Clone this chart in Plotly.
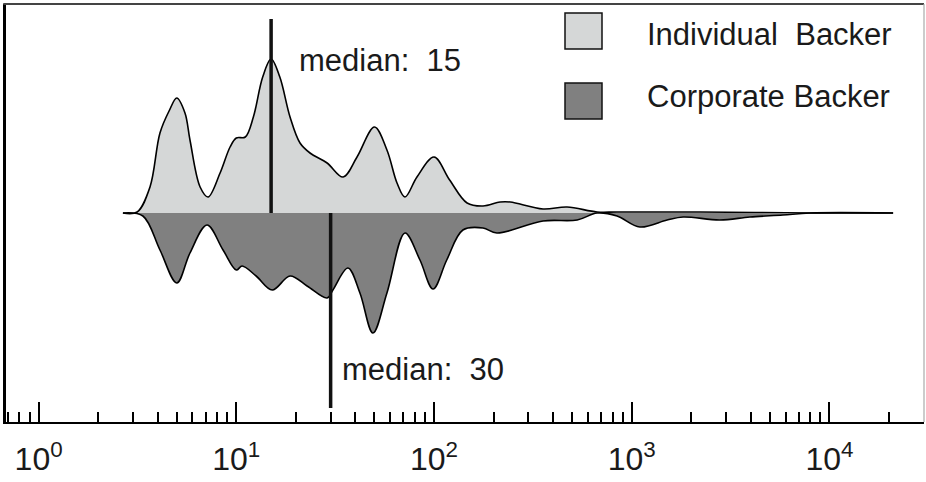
import math
import plotly.graph_objects as go

# Kernel density estimates of pledge amounts (arbitrary density units)
ind_x = [2.67, 3.15, 3.66, 4.11, 4.57, 5.0, 5.5, 5.83, 6.56, 7.2, 8.28, 9.3,
         10.0, 11.1, 12.2, 13.6, 15.0, 16.6, 18.7, 21.0, 23.6, 28.8, 34.7,
         40.8, 50, 57.8, 65, 71.3, 82, 100, 120, 147, 177, 216, 243, 356, 471,
         668, 843, 2220, 7980, 21000]
ind_density = [0, 1, 26, 80, 102, 115, 100, 73, 26, 16, 40, 66,
               75, 76, 96, 136, 154, 136, 96, 70, 60, 50, 36,
               56, 86, 63, 30, 16, 36, 56, 33, 10, 7, 11, 11, 4, 6,
               1, 1, 1, 0, 0]

corp_x = [2.67, 3.37, 4.11, 5.0, 5.83, 7.11, 8.57, 10.0, 10.7, 12.6, 15.2,
          18.7, 22.8, 28.8, 30.8, 36.7, 42.2, 49.1, 57.8, 71.3, 84.9, 98.9,
          116, 140, 177, 208, 356, 530, 668, 843, 1100, 1510, 1820, 2790,
          3960, 5820, 7980, 21000]
corp_density = [0, 3, 37, 70, 40, 12, 37, 57, 53, 63, 77,
                63, 73, 85, 77, 55, 80, 120, 80, 20, 47, 76,
                47, 17, 15, 20, 8, 7, 0, 3, 14, 7, 4, 7,
                4, 2, 0, 0]

series_names = ["Individual\u00a0\u00a0Backer", "Corporate Backer"]
medians = [15, 30]
median_extent = [194, 195]

tick_vals = [1, 10, 100, 1000, 10000]
tick_text = ["10<sup>0</sup>", "10<sup>1</sup>", "10<sup>2</sup>",
             "10<sup>3</sup>", "10<sup>4</sup>"]
minor_vals = [m * 10 ** k for k in range(-1, 5) for m in range(2, 10)]

LIGHT = "#d5d7d7"
DARK = "#808080"
FONT = "Liberation Sans, Arial, sans-serif"
TEXT = "#1a1a1a"

W, H = 926, 482
ML, MR, MT, MB = 6, 2, 4, 60


def px_x(p):
    return (p - ML) / (W - ML - MR)


def px_y(p):
    return (H - MB - p) / (H - MT - MB)


fig = go.Figure()

fig.add_trace(go.Scatter(
    x=ind_x, y=ind_density, mode="lines", line=dict(color="black", width=1.6, shape="spline"),
    fill="tozeroy", fillcolor=LIGHT, hoverinfo="skip", showlegend=False))
fig.add_trace(go.Scatter(
    x=corp_x, y=[-v for v in corp_density], mode="lines",
    line=dict(color="black", width=1.6, shape="spline"),
    fill="tozeroy", fillcolor=DARK, hoverinfo="skip", showlegend=False))

# median markers
fig.add_trace(go.Scatter(x=[medians[0], medians[0]], y=[0, median_extent[0]], mode="lines",
                         line=dict(color="#111", width=3.5), hoverinfo="skip", showlegend=False))
fig.add_trace(go.Scatter(x=[medians[1], medians[1]], y=[0, -median_extent[1]], mode="lines",
                         line=dict(color="#111", width=3.5), hoverinfo="skip", showlegend=False))

# annotation x positions on a log axis are given in log10 units
fig.add_annotation(x=math.log10(medians[0]), y=153, xref="x", yref="y",
                   xanchor="left", yanchor="middle", xshift=26,
                   text=f"median:\u00a0\u00a0{medians[0]}", showarrow=False,
                   font=dict(family=FONT, size=31, color=TEXT))
fig.add_annotation(x=math.log10(medians[1]), y=-156, xref="x", yref="y",
                   xanchor="left", yanchor="middle", xshift=9,
                   text=f"median:\u00a0\u00a0{medians[1]}", showarrow=False,
                   font=dict(family=FONT, size=31, color=TEXT))

# legend boxes
for (y0, y1, col), name, ty in zip([(13, 49, LIGHT), (83, 119, DARK)], series_names, [34, 96]):
    fig.add_shape(type="rect", xref="paper", yref="paper",
                  x0=px_x(565), x1=px_x(602), y0=px_y(y1), y1=px_y(y0),
                  fillcolor=col, line=dict(color="#111", width=1.5))
    fig.add_annotation(x=px_x(645), y=px_y(ty), xref="paper", yref="paper",
                       xanchor="left", yanchor="middle", text=name, showarrow=False,
                       font=dict(family=FONT, size=31, color=TEXT))

# frame top and right
fig.add_shape(type="line", xref="paper", yref="paper", x0=-0.003, x1=1, y0=1, y1=1,
              line=dict(color="#444", width=2))
fig.add_shape(type="line", xref="paper", yref="paper", x0=1, x1=1, y0=0, y1=1,
              line=dict(color="#aaa", width=1.2))

plot_w = W - ML - MR
decade = 197.7
origin = 38.6
fig.update_xaxes(
    type="log", range=[(ML - origin) / decade, (ML + plot_w - origin) / decade],
    tickmode="array", tickvals=tick_vals, ticktext=tick_text,
    ticks="inside", ticklen=20, tickwidth=2, tickcolor="black",
    minor=dict(tickmode="array", tickvals=minor_vals, ticks="inside", ticklen=10,
               tickwidth=2, tickcolor="black", showgrid=False),
    showline=True, linewidth=2, linecolor="black", showgrid=False, zeroline=False,
    tickfont=dict(family=FONT, size=32, color=TEXT), ticklabelstandoff=8)
fig.update_yaxes(range=[-209, 209], showline=True, linewidth=3, linecolor="black",
                 showticklabels=False, ticks="", showgrid=False, zeroline=False)

fig.update_layout(width=W, height=H, margin=dict(l=ML, r=MR, t=MT, b=MB),
                  plot_bgcolor="white", paper_bgcolor="white", showlegend=False)

fig.write_html("out.html")
